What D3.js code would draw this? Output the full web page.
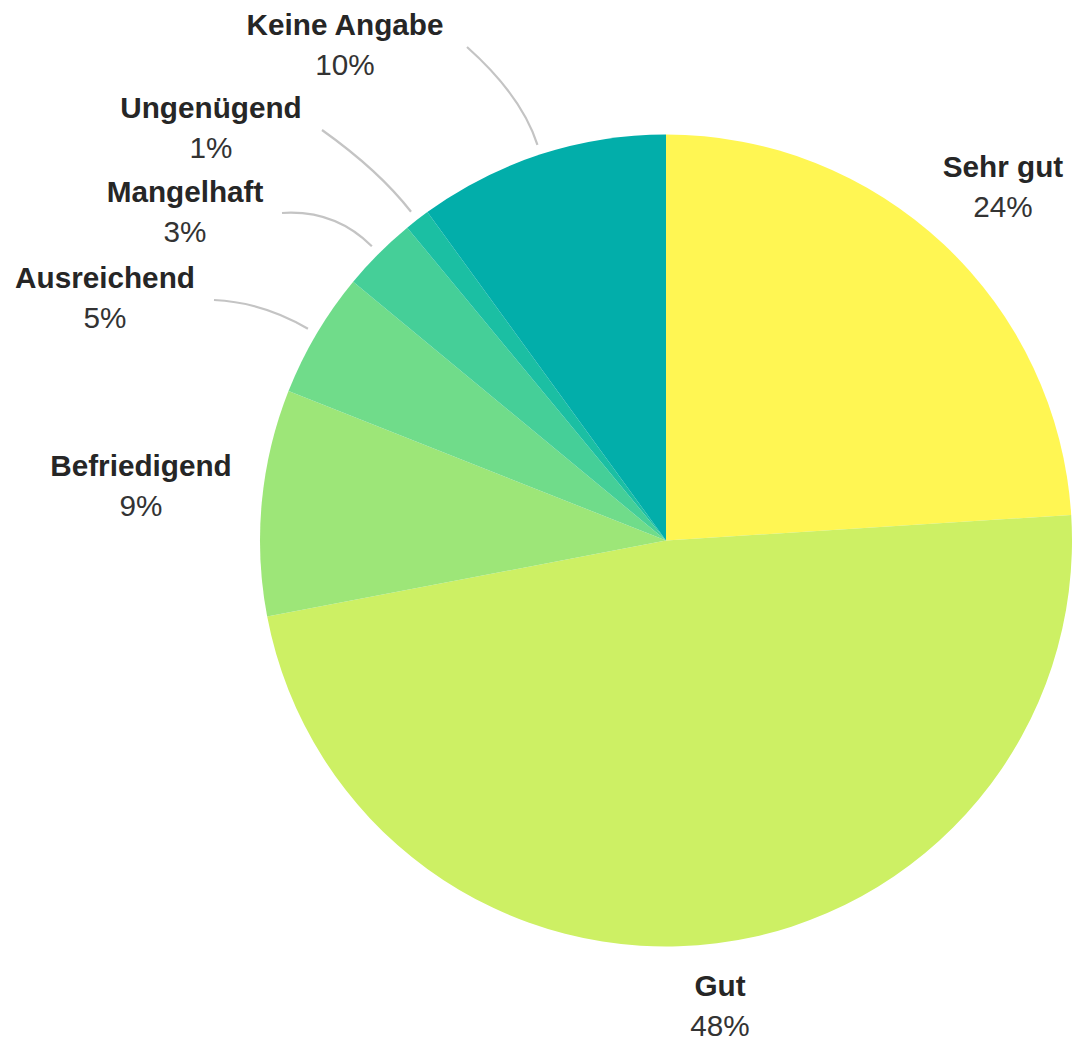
<!DOCTYPE html>
<html>
<head>
<meta charset="utf-8">
<script src="https://cdn.jsdelivr.net/npm/d3@7"></script>
<style>
  html, body { margin: 0; padding: 0; background: #fff; }
  svg { display: block; }
</style>
</head>
<body>
<svg id="chart" width="1072" height="1043"></svg>
<script>
// Bewertungen (Anteile in Prozent), im Uhrzeigersinn ab 12 Uhr
const categories = ["Sehr gut", "Gut", "Befriedigend", "Ausreichend", "Mangelhaft", "Ungenügend", "Keine Angabe"];
const shares = [24, 48, 9, 5, 3, 1, 10];
const colors = ["#fff653", "#cdf064", "#9de678", "#70dc8a", "#45cf98", "#1bbfa3", "#02aeaa"];

// Label placement: centre x and baseline of the name line; `end` is where a leader line meets the label
const labelLayout = {
  "Sehr gut":     { x: 1003, y: 177 },
  "Gut":          { x: 720,  y: 996 },
  "Befriedigend": { x: 141,  y: 476 },
  "Ausreichend":  { x: 105,  y: 288, end: [214, 300] },
  "Mangelhaft":   { x: 185,  y: 202, end: [282, 213] },
  "Ungenügend":   { x: 211,  y: 118, end: [322, 130] },
  "Keine Angabe": { x: 345,  y: 35,  end: [467, 47] }
};

const cx = 666, cy = 540.5, radius = 406;
const lineGap = 40;

const data = categories.map((c, i) => ({ name: c, value: shares[i], color: colors[i] }));

const pie = d3.pie().sort(null).value(d => d.value);
const arc = d3.arc().innerRadius(0).outerRadius(radius);
const arcs = pie(data);

const svg = d3.select("#chart");
const g = svg.append("g").attr("transform", `translate(${cx},${cy})`);

g.selectAll("path.slice")
  .data(arcs)
  .join("path")
  .attr("class", "slice")
  .attr("d", arc)
  .attr("fill", d => d.data.color);

// Leader lines for the narrow slices
const leaders = svg.append("g");
arcs.forEach(a => {
  const lay = labelLayout[a.data.name];
  if (!lay.end) return;
  const mid = (a.startAngle + a.endAngle) / 2;
  const ux = Math.sin(mid), uy = -Math.cos(mid);
  const sx = cx + ux * (radius + 10), sy = cy + uy * (radius + 10);
  const qx = sx + ux * 52, qy = sy + uy * 52;
  const p = d3.path();
  p.moveTo(lay.end[0], lay.end[1]);
  p.quadraticCurveTo(qx, qy, sx, sy);
  leaders.append("path")
    .attr("d", p.toString())
    .attr("fill", "none")
    .attr("stroke", "#c4c4c4")
    .attr("stroke-width", 2.2);
});

// Labels: bold name with the percentage underneath
const labels = svg.append("g")
  .attr("font-family", "'Liberation Sans', Arial, sans-serif")
  .attr("font-size", 29.7)
  .attr("text-anchor", "middle");

arcs.forEach(a => {
  const lay = labelLayout[a.data.name];
  labels.append("text")
    .attr("x", lay.x)
    .attr("y", lay.y)
    .attr("font-weight", "bold")
    .attr("fill", "#262626")
    .text(a.data.name);
  labels.append("text")
    .attr("x", lay.x)
    .attr("y", lay.y + lineGap)
    .attr("fill", "#333")
    .text(d3.format(".0%")(a.data.value / 100));
});
</script>
</body>
</html>
